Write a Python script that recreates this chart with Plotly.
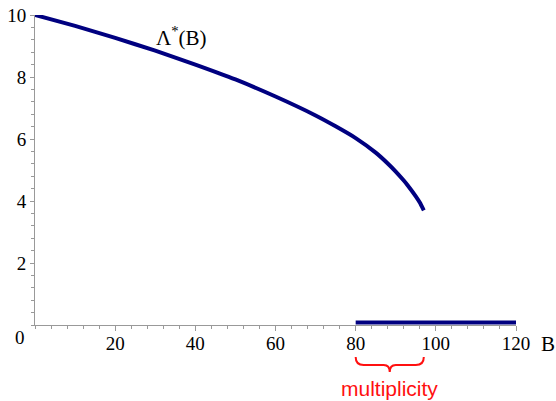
import plotly.graph_objects as go

# Data
B_curve = [0, 10, 20, 30, 40, 50, 60, 70, 75, 80, 85, 88, 90, 92, 93, 95, 96, 97]
L_curve = [10, 9.65, 9.26, 8.85, 8.40, 7.92, 7.37, 6.76, 6.41, 6.03, 5.56, 5.21, 4.95, 4.66, 4.5, 4.15, 3.95, 3.7]
B_flat = [80, 120]
L_flat = [0.08, 0.08]
mult_range = [80, 97]
x_ticks = [20, 40, 60, 80, 100, 120]
y_ticks = [2, 4, 6, 8, 10]

navy = "#000080"
red = "#ff1010"
serif = "Times New Roman"
sans = "Arial"

fig = go.Figure()
fig.add_trace(go.Scatter(x=B_curve, y=L_curve, mode="lines",
                         line=dict(color=navy, width=4, shape="spline", smoothing=0.4),
                         hoverinfo="skip", cliponaxis=False))
fig.add_trace(go.Scatter(x=B_flat, y=L_flat, mode="lines",
                         line=dict(color=navy, width=4), cliponaxis=False, hoverinfo="skip"))

# curly brace below the multiplicity range
a, b = mult_range
m = (a + b) / 2
y0, y1, y2 = -0.103, -0.129, -0.152
path = (f"M {a},{y0} Q {a},{y1} {a+2},{y1} L {m-1.5},{y1} Q {m},{y1} {m},{y2} "
        f"Q {m},{y1} {m+1.5},{y1} L {b-2},{y1} Q {b},{y1} {b},{y0}")
fig.add_shape(type="path", path=path, xref="x", yref="paper",
              line=dict(color=red, width=2))

fig.add_annotation(x=m, y=-0.205, xref="x", yref="paper", text="multiplicity",
                   showarrow=False, font=dict(family=sans, size=21, color=red),
                   xanchor="center", yanchor="middle")
fig.add_annotation(x=36.5, y=9.3, xref="x", yref="y", text="Λ<sup>*</sup>(B)",
                   showarrow=False, font=dict(family=serif, size=21, color="black"),
                   xanchor="center", yanchor="middle")
fig.add_annotation(x=1, y=-0.06, xref="paper", yref="paper", text="B",
                   showarrow=False, font=dict(family=serif, size=21, color="black"),
                   xanchor="left", yanchor="middle", xshift=23)
fig.add_annotation(x=0, y=-0.04, xref="paper", yref="paper", text="0",
                   showarrow=False, font=dict(family=serif, size=19, color="black"),
                   xanchor="right", yanchor="middle", xshift=-8)

fig.update_layout(
    width=556, height=401,
    margin=dict(l=35, r=40, t=15, b=76, autoexpand=False),
    paper_bgcolor="white", plot_bgcolor="white",
    showlegend=False,
    xaxis=dict(range=[0, 120], tickvals=x_ticks, showgrid=False, zeroline=False,
               showline=True, linecolor="#999999", linewidth=1, automargin=False,
               ticks="outside", ticklen=5, tickcolor="#999999", ticklabelstandoff=-4,
               tickfont=dict(family=serif, size=19, color="black"),
               minor=dict(dtick=4, ticks="outside", ticklen=3, tickcolor="#999999", showgrid=False),
               fixedrange=True),
    yaxis=dict(range=[0, 10], tickvals=y_ticks, showgrid=False, zeroline=False,
               showline=True, linecolor="#999999", linewidth=1, automargin=False,
               ticks="outside", ticklen=4, tickcolor="#999999",
               tickfont=dict(family=serif, size=19, color="black"),
               minor=dict(dtick=0.4, ticks="outside", ticklen=3, tickcolor="#999999", showgrid=False),
               fixedrange=True),
)

fig.write_html("out.html", config={"displayModeBar": False},
               post_script="document.body.style.margin='0';document.body.style.padding='0';")
